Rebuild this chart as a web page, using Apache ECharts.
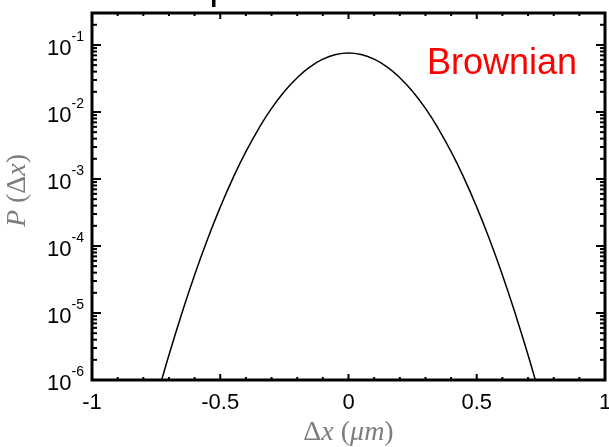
<!DOCTYPE html>
<html>
<head>
<meta charset="utf-8">
<script src="https://cdn.jsdelivr.net/npm/echarts@6/dist/echarts.min.js"></script>
<style>
  html, body { margin: 0; padding: 0; background: #fff; }
  #chart { width: 609px; height: 447px; }
</style>
</head>
<body>
<div id="chart"></div>
<script>
// Displacement distribution P(Δx) for Brownian motion, log scale
const dxValues = [-0.75, -0.7, -0.65, -0.6, -0.55, -0.5, -0.45, -0.4, -0.35, -0.3, -0.25, -0.2, -0.15, -0.1, -0.05,
  0, 0.05, 0.1, 0.15, 0.2, 0.25, 0.3, 0.35, 0.4, 0.45, 0.5, 0.55, 0.6, 0.65, 0.7, 0.75];
const pValues = [5.1e-7, 2.36e-6, 9.8e-6, 3.7e-5, 1.25e-4, 3.8e-4, 1.04e-3, 2.56e-3, 5.66e-3, 1.13e-2, 2.02e-2, 3.25e-2, 4.71e-2, 6.14e-2, 7.19e-2,
  7.59e-2, 7.19e-2, 6.14e-2, 4.71e-2, 3.25e-2, 2.02e-2, 1.13e-2, 5.66e-3, 2.56e-3, 1.04e-3, 3.8e-4, 1.25e-4, 3.7e-5, 9.8e-6, 2.36e-6, 5.1e-7];

const xMin = -1, xMax = 1, xStep = 0.5, xMinorStep = 0.1;
const yMin = 1e-6, yMax = 0.3;
const annotation = 'Brownian';

// Inward ticks on all four sides (major and minor)
const xTicks = [];
for (let i = 0; i <= Math.round((xMax - xMin) / xMinorStep); i++) {
  xTicks.push(+(xMin + i * xMinorStep).toFixed(6));
}
const yTicks = [];
for (let e = -6; e <= -1; e++) {
  for (let m = 1; m <= 9; m++) {
    const v = m * Math.pow(10, e);
    if (v <= yMax * 1.0001) yTicks.push(v);
  }
}

const mathFont = '"Liberation Serif", "DejaVu Serif", serif';
const labelFont = '"Liberation Sans", Arial, sans-serif';
const nameColor = '#7d7d7d';

const chart = echarts.init(document.getElementById('chart'), null, { renderer: 'canvas' });

function xTickItem(params, api) {
  const v = api.value(0);
  const bottom = api.coord([v, yMin]);
  const top = api.coord([v, yMax]);
  const major = Math.abs(v / xStep - Math.round(v / xStep)) < 1e-6;
  const len = major ? 6 : 3;
  const st = { stroke: '#000', lineWidth: 2 };
  return {
    type: 'group',
    children: [
      { type: 'line', shape: { x1: bottom[0], y1: bottom[1], x2: bottom[0], y2: bottom[1] - len }, style: st },
      { type: 'line', shape: { x1: top[0], y1: top[1], x2: top[0], y2: top[1] + len }, style: st }
    ]
  };
}

function yTickItem(params, api) {
  const v = api.value(1);
  const left = api.coord([xMin, v]);
  const right = api.coord([xMax, v]);
  const e = Math.log10(v);
  const major = Math.abs(e - Math.round(e)) < 1e-6;
  const len = major ? 9 : 5;
  const st = { stroke: '#000', lineWidth: 2 };
  return {
    type: 'group',
    children: [
      { type: 'line', shape: { x1: left[0], y1: left[1], x2: left[0] + len, y2: left[1] }, style: st },
      { type: 'line', shape: { x1: right[0], y1: right[1], x2: right[0] - len, y2: right[1] }, style: st }
    ]
  };
}

const option = {
  animation: false,
  backgroundColor: '#fff',
  grid: {
    left: 92, right: 4, top: 13, bottom: 67,
    show: true, borderColor: '#000', borderWidth: 3,
    outerBoundsMode: 'none'
  },
  xAxis: {
    type: 'value',
    min: xMin, max: xMax, interval: xStep,
    axisLine: { show: false },
    axisTick: { show: false },
    splitLine: { show: false },
    axisLabel: {
      margin: 12,
      color: '#000',
      fontSize: 22,
      fontFamily: labelFont,
      showMinLabel: true, showMaxLabel: true,
      hideOverlap: false
    },
    name: '{u|Δ}{i|x}{u| (}{i|μm}{u|)}',
    nameLocation: 'middle',
    nameGap: 32,
    nameTextStyle: {
      rich: {
        u: { fontFamily: mathFont, fontSize: 28, color: nameColor },
        i: { fontFamily: mathFont, fontSize: 28, fontStyle: 'italic', color: nameColor }
      }
    }
  },
  yAxis: {
    type: 'log',
    logBase: 10,
    min: yMin, max: yMax,
    axisLine: { show: false },
    axisTick: { show: false },
    splitLine: { show: false },
    minorTick: { show: false },
    axisLabel: {
      margin: 8,
      hideOverlap: false,
      formatter: function (v) {
        const e = Math.log10(v);
        const r = Math.round(e);
        if (Math.abs(e - r) > 1e-6) return '';
        return '{b|10}{s|' + r + '}';
      },
      rich: {
        b: { fontSize: 22, lineHeight: 30, fontFamily: labelFont, color: '#000', verticalAlign: 'bottom' },
        s: { fontSize: 14, lineHeight: 30, fontFamily: labelFont, color: '#000', verticalAlign: 'top' }
      }
    },
    name: '{i|P}{u| (Δ}{i|x}{u|)}',
    nameLocation: 'middle',
    nameRotate: 90,
    nameGap: 60,
    nameTextStyle: {
      padding: [0, 0, 0, 12],
      rich: {
        u: { fontFamily: mathFont, fontSize: 28, color: nameColor },
        i: { fontFamily: mathFont, fontSize: 28, fontStyle: 'italic', color: nameColor }
      }
    }
  },
  series: [
    {
      name: 'P',
      type: 'line',
      data: dxValues.map((x, i) => [x, pValues[i]]),
      showSymbol: false,
      smooth: true,
      clip: true,
      lineStyle: { color: '#000', width: 1.5 },
      z: 3
    },
    {
      type: 'custom',
      coordinateSystem: 'cartesian2d',
      data: xTicks.map(v => [v, yMin]),
      renderItem: xTickItem,
      silent: true,
      clip: false,
      z: 4
    },
    {
      type: 'custom',
      coordinateSystem: 'cartesian2d',
      data: yTicks.map(v => [xMin, v]),
      renderItem: yTickItem,
      silent: true,
      clip: false,
      z: 4
    }
  ],
  graphic: [
    {
      type: 'text',
      x: 427, y: 64,
      style: {
        text: annotation,
        fill: '#ff0000',
        font: '36px "Liberation Sans", Arial, sans-serif',
        textAlign: 'left',
        textVerticalAlign: 'middle'
      }
    },
    {
      // stem of the panel heading glyph clipped above the frame
      type: 'rect',
      shape: { x: 212, y: 0, width: 3.5, height: 7 },
      style: { fill: '#000' }
    }
  ]
};

chart.setOption(option);
</script>
</body>
</html>
